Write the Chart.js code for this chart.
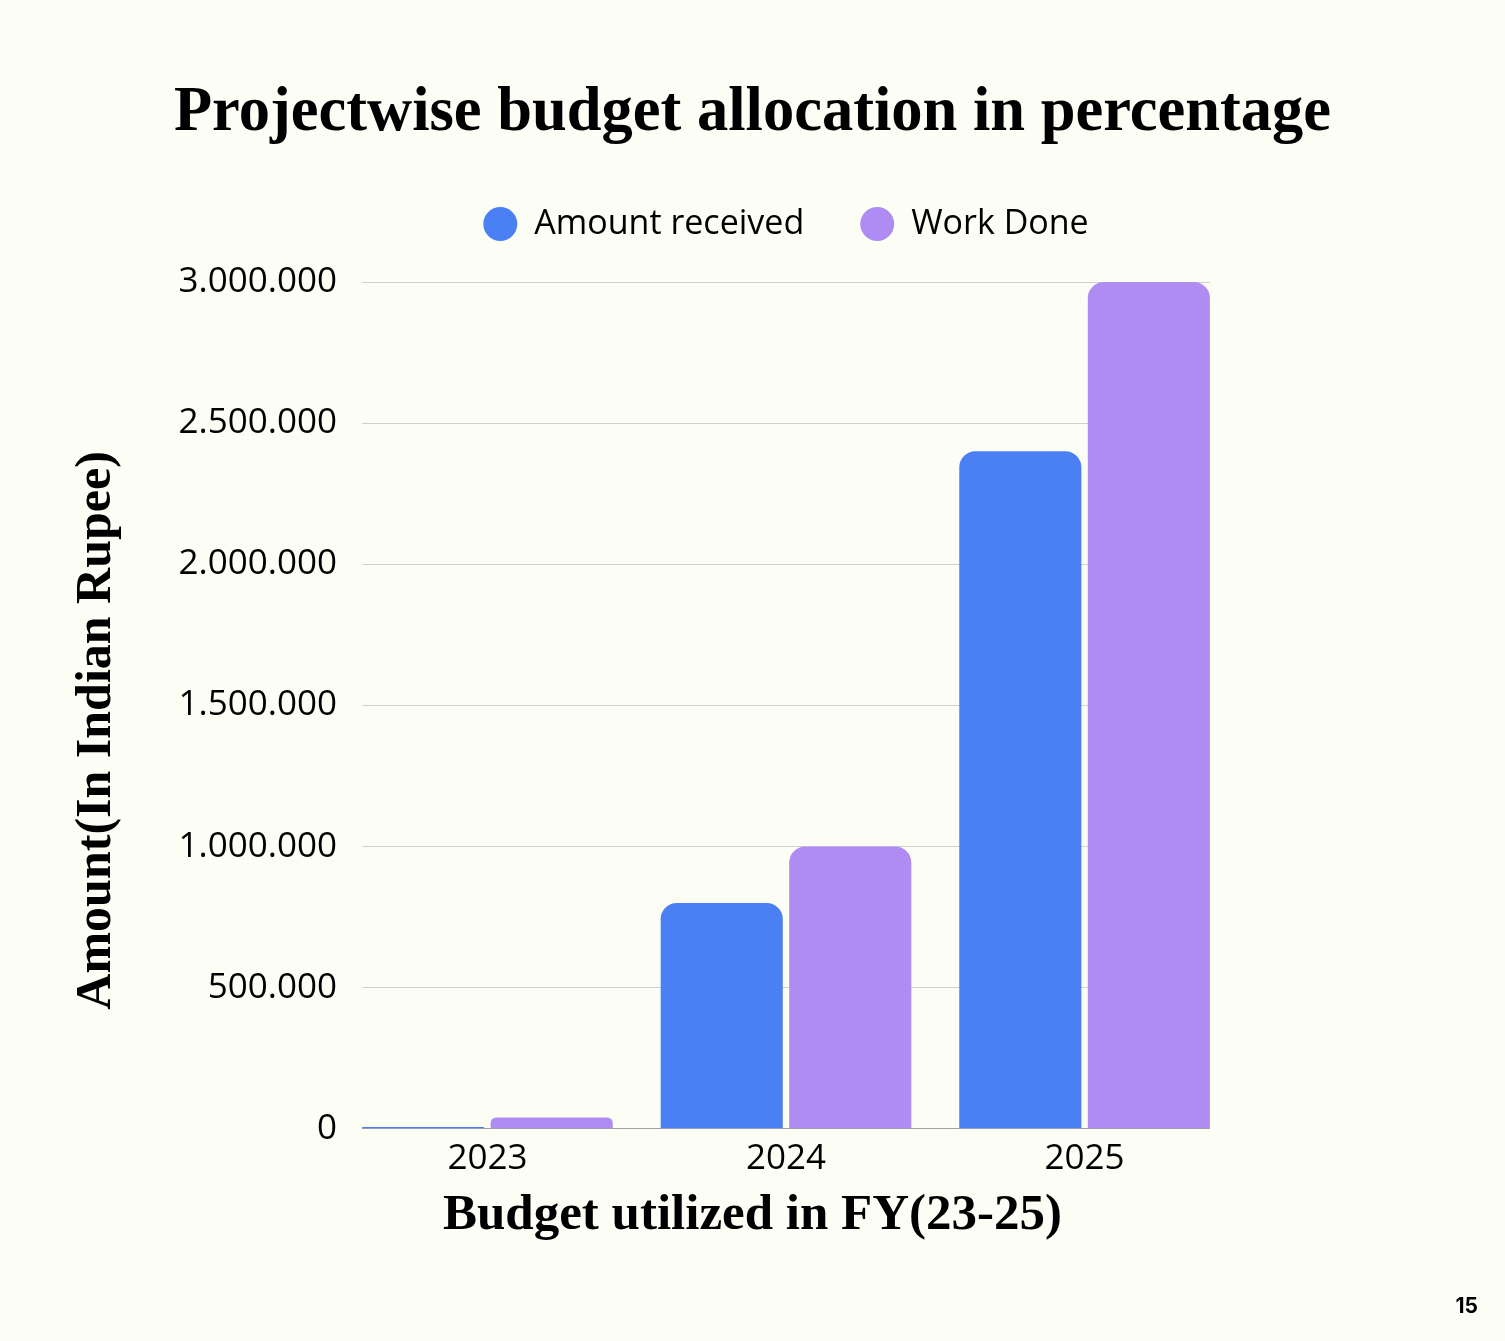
<!DOCTYPE html>
<html>
<head>
<meta charset="utf-8">
<title>Projectwise budget allocation in percentage</title>
<script src="https://cdn.jsdelivr.net/npm/chart.js@4.4.1/dist/chart.umd.min.js"></script>
<style>
  body { margin: 0; background: #fcfef5; overflow: hidden; }
  .wrap { position: relative; width: 1505px; height: 1341px; }
  .page-no { position: absolute; right: 27px; top: 1293px; font: 700 21px Inter, sans-serif; color: #000; }
</style>
</head>
<body>
<div class="wrap">
  <canvas id="budgetChart"></canvas>
  <div class="page-no">15</div>
</div>
<script>
// Chart data
const years = [2023, 2024, 2025];
const amountReceived = [6000, 800000, 2400000];
const workDone = [40000, 1000000, 3000000];
const yTicks = [0, 500000, 1000000, 1500000, 2000000, 2500000, 3000000];

const BLUE = '#4b80f5';
const PURPLE = '#ae8cf2';

// 3000000 -> "3.000.000"
function dotted(v) {
    return String(v).replace(/\B(?=(\d{3})+(?!\d))/g, '.');
}

// push the plot a bit further below the legend
const legendGap = {
    id: 'legendGap',
    beforeInit(chart) {
        const fit = chart.legend.fit;
        chart.legend.fit = function () {
            fit.call(this);
            this.height += 31;
        };
    }
};

const ctx = document.getElementById('budgetChart').getContext('2d');
new Chart(ctx, {
    type: 'bar',
    data: {
        labels: years,
        datasets: [{
            label: 'Amount received',
            data: amountReceived,
            backgroundColor: BLUE,
            borderWidth: 0,
            borderRadius: { topLeft: 16, topRight: 16, bottomLeft: 0, bottomRight: 0 }
        }, {
            label: 'Work Done',
            data: workDone,
            backgroundColor: PURPLE,
            borderWidth: 0,
            borderRadius: { topLeft: 16, topRight: 16, bottomLeft: 0, bottomRight: 0 }
        }]
    },
    options: {
        responsive: true,
        maintainAspectRatio: false,
        animation: false,
        categoryPercentage: 0.861,
        barPercentage: 0.95,
        layout: { padding: { top: 0, left: 0, right: 0, bottom: 95 } },
        plugins: {
            title: {
                display: true,
                text: 'Projectwise budget allocation in percentage',
                color: '#000',
                font: { family: 'Liberation Serif', size: 62.5, weight: 'bold' },
                padding: { top: 76, bottom: 0 }
            },
            subtitle: {
                display: true,
                position: 'bottom',
                text: 'Budget utilized in FY(23-25)',
                color: '#000',
                font: { family: 'Liberation Serif', size: 51, weight: 'bold' },
                padding: { top: 0, bottom: 0 }
            },
            legend: {
                display: true,
                position: 'top',
                fullSize: false,
                labels: {
                    usePointStyle: true,
                    pointStyle: 'circle',
                    pointStyleWidth: 34,
                    boxHeight: 24,
                    padding: 56,
                    color: '#000',
                    font: { family: 'Open Sans', size: 34 }
                }
            },
            tooltip: { enabled: false }
        },
        scales: {
            x: {
                type: 'linear',
                min: years[0] - 0.42,
                max: years[years.length - 1] + 0.42,
                offset: false,
                grid: { display: false, drawTicks: false },
                border: { display: false },
                ticks: {
                    stepSize: 1,
                    includeBounds: false,
                    padding: 9,
                    color: '#000',
                    font: { family: 'Open Sans', size: 35 },
                    callback: v => String(v)
                },
                afterFit: scale => { scale.height = 56; }
            },
            y: {
                position: 'left',
                min: yTicks[0],
                max: yTicks[yTicks.length - 1],
                border: { display: false },
                grid: {
                    drawTicks: false,
                    lineWidth: 1,
                    color: c => c.tick && c.tick.value === 0 ? '#a3a3a3' : '#d0d0d0'
                },
                ticks: {
                    stepSize: yTicks[1] - yTicks[0],
                    padding: 25,
                    color: '#000',
                    font: { family: 'Open Sans', size: 35 },
                    callback: v => dotted(v)
                },
                title: {
                    display: true,
                    text: 'Amount(In Indian Rupee)    ',
                    color: '#000',
                    font: { family: 'Liberation Serif', size: 50, weight: 'bold' },
                    padding: { top: 67, bottom: 20 }
                },
                afterFit: scale => { scale.width = 362; }
            },
            // empty right-hand axis: keeps the empty margin right of the plot
            yRight: {
                position: 'right',
                display: true,
                grid: { display: false },
                border: { display: false },
                ticks: { display: false },
                afterFit: scale => { scale.width = 295; }
            }
        }
    },
    plugins: [legendGap]
});
</script>
</body>
</html>
